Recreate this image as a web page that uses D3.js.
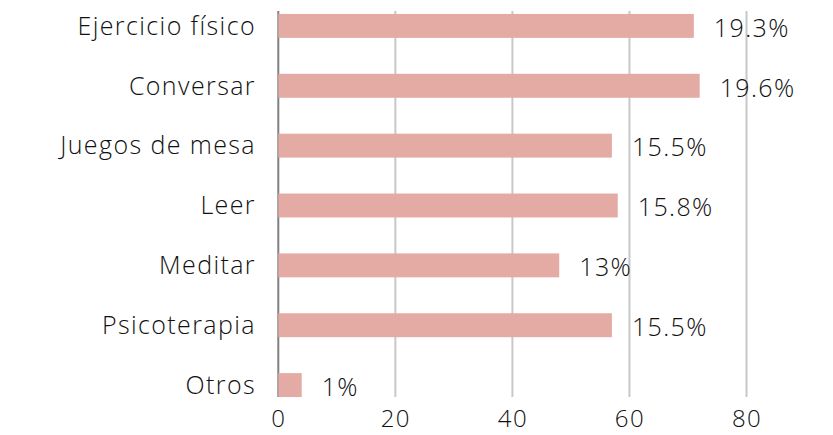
<!DOCTYPE html>
<html>
<head>
<meta charset="utf-8">
<script src="https://cdn.jsdelivr.net/npm/d3@7"></script>
<style>
  body { margin: 0; background: #fff; }
  text { font-family: "Open Sans", "Lato", sans-serif; font-weight: 300; fill: #111; letter-spacing: 1.4px; }
</style>
</head>
<body>
<script>
'use strict';

// data
const categories = ["Ejercicio físico", "Conversar", "Juegos de mesa", "Leer", "Meditar", "Psicoterapia", "Otros"];
const values = [71, 72, 57, 58, 48, 57, 4];
const percentLabels = ["19.3%", "19.6%", "15.5%", "15.8%", "13%", "15.5%", "1%"];
const xTicks = [0, 20, 40, 60, 80];

const width = 833, height = 435;

const svg = d3.select("body").append("svg")
    .attr("width", width)
    .attr("height", height);

let x = d3.scaleLinear()
    .domain([0, 80])
    .range([278.3, 746.5]);

let y = d3.scaleBand()
    .domain(categories)
    .range([-4, 415])
    .paddingInner(0.6)
    .paddingOuter(0.3);

const gridTop = 11, gridBottom = 397;

// vertical gridlines
svg.append("g")
    .selectAll("line")
    .data(xTicks.filter(d => d > 0))
    .enter().append("line")
    .attr("x1", d => x(d))
    .attr("x2", d => x(d))
    .attr("y1", gridTop)
    .attr("y2", gridBottom)
    .attr("stroke", "#c8c8c8")
    .attr("stroke-width", 2);

// category axis line
svg.append("line")
    .attr("x1", x(0))
    .attr("x2", x(0))
    .attr("y1", gridTop)
    .attr("y2", gridBottom)
    .attr("stroke", "#808080")
    .attr("stroke-width", 2);

// bars
svg.append("g")
    .selectAll("rect")
    .data(categories)
    .enter().append("rect")
    .attr("x", x(0))
    .attr("y", d => y(d))
    .attr("width", (d, i) => x(values[i]) - x(0))
    .attr("height", y.bandwidth())
    .attr("fill", "#e4aba5");

// value labels
svg.append("g")
    .selectAll("text")
    .data(categories)
    .enter().append("text")
    .attr("x", (d, i) => x(values[i]) + 20)
    .attr("y", d => y(d) + y.bandwidth() / 2 + 2)
    .attr("dy", "0.35em")
    .style("font-size", "25px")
    .text((d, i) => percentLabels[i]);

// category labels
svg.append("g")
    .selectAll("text")
    .data(categories)
    .enter().append("text")
    .attr("x", 256)
    .attr("y", d => y(d) + y.bandwidth() / 2)
    .attr("dy", "0.35em")
    .attr("text-anchor", "end")
    .style("font-size", "25px")
    .text(d => d);

// x axis ticks
let xAxis = d3.axisBottom(x)
    .tickValues(xTicks)
    .tickSize(0)
    .tickPadding(0);

let gx = svg.append("g")
    .attr("transform", "translate(0," + 427 + ")")
    .call(xAxis);
gx.select(".domain").remove();
gx.selectAll("text")
    .attr("dy", "0")
    .style("font-size", "24px")
    .style("font-family", "'Open Sans', Lato, sans-serif")
    .style("font-weight", 300)
    .attr("fill", "#111");
</script>
</body>
</html>
